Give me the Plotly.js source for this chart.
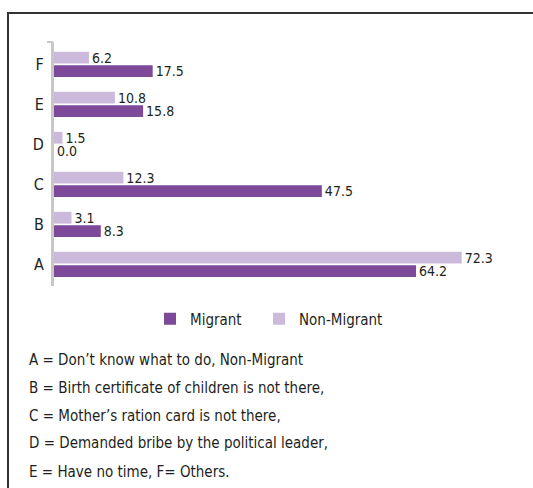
<!DOCTYPE html>
<html>
<head>
<meta charset="utf-8">
<script src="https://cdn.plot.ly/plotly-3.0.1.min.js"></script>
<style>
  html, body { margin: 0; padding: 0; background: #fff; overflow: hidden; }
  #wrap { position: relative; width: 533px; height: 488px; overflow: hidden; }
  #chart { position: absolute; left: 0; top: 0; width: 533px; height: 488px; }
  #frame { position: absolute; left: 7px; top: 12px; width: 600px; height: 600px;
           border-left: 2px solid #333; border-top: 2px solid #333; pointer-events: none; }
</style>
</head>
<body>
<div id="wrap">
  <div id="chart"></div>
  <div id="frame"></div>
</div>
<script>
const categories = ['A', 'B', 'C', 'D', 'E', 'F'];
const migrant = [64.2, 8.3, 47.5, 0.0, 15.8, 17.5];
const nonMigrant = [72.3, 3.1, 12.3, 1.5, 10.8, 6.2];
const seriesNames = ['Migrant', 'Non-Migrant'];
const keyLines = [
  'A = Don\u2019t know what to do, Non-Migrant',
  'B = Birth certificate of children is not there,',
  'C = Mother\u2019s ration card is not there,',
  'D = Demanded bribe by the political leader,',
  'E = Have no time, F= Others.'
];

const FONT = '"DejaVu Sans Condensed", "Liberation Sans Narrow", sans-serif';
const TXT = '#231f20';

const traces = [
  {
    type: 'bar', orientation: 'h', name: seriesNames[0], legend: 'legend',
    y: categories, x: migrant,
    marker: { color: '#7d4a99' },
    text: migrant.map(v => v.toFixed(1)),
    textposition: 'outside', constraintext: 'none', cliponaxis: false,
    textfont: { family: FONT, size: 14, color: TXT },
    hoverinfo: 'x+name'
  },
  {
    type: 'bar', orientation: 'h', name: seriesNames[1], legend: 'legend2',
    y: categories, x: nonMigrant,
    marker: { color: '#cbbadb' },
    text: nonMigrant.map(v => v.toFixed(1)),
    textposition: 'outside', constraintext: 'none', cliponaxis: false,
    textfont: { family: FONT, size: 14, color: TXT },
    hoverinfo: 'x+name'
  }
];

// plot area geometry: x 54..504, y 42..286
const L = 54, R = 29, T = 42, B = 202;
const W = 533 - L - R, H = 488 - T - B;
const px = x => (x - L) / W;
const py = y => (T + H - y) / H;

const keyY = [360, 388, 416, 443, 472];
const annotations = keyLines.map((t, i) => ({
  xref: 'paper', yref: 'paper', x: px(27), y: py(keyY[i]),
  xanchor: 'left', yanchor: 'middle', showarrow: false, align: 'left',
  text: t, font: { family: FONT, size: 15, color: TXT }
}));

const legendBase = {
  orientation: 'h', xanchor: 'left', yanchor: 'middle', y: py(319),
  font: { family: FONT, size: 15, color: TXT },
  itemwidth: 30, bgcolor: 'rgba(0,0,0,0)'
};

const layout = {
  width: 533, height: 488,
  margin: { l: L, r: R, t: T, b: B, pad: 0 },
  paper_bgcolor: '#ffffff', plot_bgcolor: '#ffffff',
  font: { family: FONT, color: TXT },
  barmode: 'group', bargap: 0.33, bargroupgap: 0.12,
  showlegend: true,
  legend: Object.assign({}, legendBase, { x: px(150) }),
  legend2: Object.assign({}, legendBase, { x: px(259) }),
  xaxis: {
    range: [0, 79.8], showgrid: false, zeroline: false, showline: false,
    showticklabels: false, ticks: '', fixedrange: true
  },
  yaxis: {
    type: 'category', range: [-0.54, 5.56],
    showgrid: false, zeroline: false, showline: true,
    linecolor: '#c8c8c8', linewidth: 3, ticks: '', ticklabelstandoff: 4,
    tickfont: { family: FONT, size: 16, color: TXT }, fixedrange: true
  },
  shapes: [
    // small hook at top of axis
    { type: 'line', xref: 'paper', yref: 'paper', x0: px(47), x1: px(53), y0: py(42), y1: py(42),
      line: { color: '#c8c8c8', width: 2 } }
  ],
  annotations: annotations
};

Plotly.newPlot('chart', traces, layout, { displayModeBar: false });
</script>
</body>
</html>
